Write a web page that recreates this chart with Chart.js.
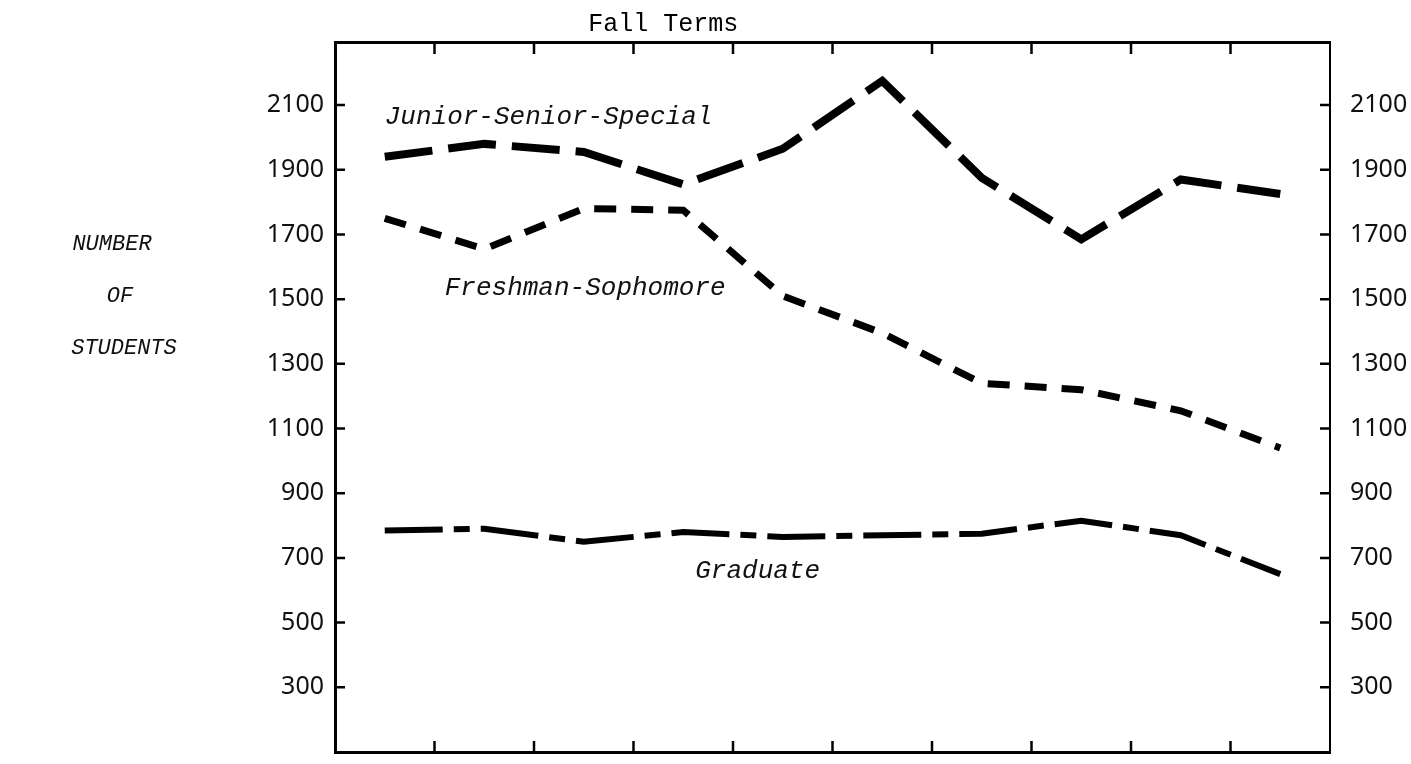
<!DOCTYPE html>
<html>
<head>
<meta charset="utf-8">
<script src="https://cdn.jsdelivr.net/npm/chart.js@4.4.1/dist/chart.umd.min.js"></script>
<style>
  html, body { margin: 0; padding: 0; background: #fff; }
</style>
</head>
<body>
<canvas id="chart" width="1411" height="764"></canvas>
<script>
// fall terms (unlabelled in the original)
const terms = ['Term 1', 'Term 2', 'Term 3', 'Term 4', 'Term 5', 'Term 6', 'Term 7', 'Term 8', 'Term 9', 'Term 10'];
const juniorSeniorSpecial = [1940, 1980, 1955, 1855, 1965, 2175, 1875, 1685, 1870, 1825];
const freshmanSophomore = [1750, 1655, 1780, 1775, 1510, 1395, 1240, 1220, 1155, 1040];
const graduate = [785, 790, 750, 780, 765, 770, 775, 815, 770, 650];
const yTicks = [300, 500, 700, 900, 1100, 1300, 1500, 1700, 1900, 2100];

const tickFont = { family: 'Noto Sans', size: 25 };
const typewriter = '"Liberation Mono", "DejaVu Sans Mono", monospace';

// ticks point inward on all four sides, plus the hand placed texts
const paperPlugin = {
  id: 'paper',
  afterDraw(chart) {
    const ctx = chart.ctx;
    const { left, right, top, bottom } = chart.chartArea;
    const x = chart.scales.x;
    const y = chart.scales.y;
    ctx.save();
    ctx.strokeStyle = '#000';
    ctx.lineWidth = 2.5;
    ctx.beginPath();
    for (let i = 0; i < terms.length - 1; i++) {
      const px = (x.getPixelForValue(i) + x.getPixelForValue(i + 1)) / 2;
      ctx.moveTo(px, top);
      ctx.lineTo(px, top + 12);
      ctx.moveTo(px, bottom);
      ctx.lineTo(px, bottom - 11);
    }
    yTicks.forEach(v => {
      const py = y.getPixelForValue(v);
      ctx.moveTo(left, py);
      ctx.lineTo(left + 10, py);
      ctx.moveTo(right, py);
      ctx.lineTo(right - 10, py);
    });
    ctx.stroke();

    ctx.fillStyle = '#000';
    ctx.textBaseline = 'middle';
    ctx.textAlign = 'center';
    ctx.font = '25px ' + typewriter;
    ctx.fillText('Fall Terms', left + (right - left) * 0.33, 24);

    ctx.fillStyle = '#111';
    ctx.textAlign = 'left';
    ctx.font = 'italic 26px ' + typewriter;
    ctx.fillText('Junior-Senior-Special', x.getPixelForValue(0), y.getPixelForValue(2062));
    ctx.fillText('Freshman-Sophomore', x.getPixelForValue(0) + 60, y.getPixelForValue(1535));
    ctx.fillText('Graduate', x.getPixelForValue(3) + 12, y.getPixelForValue(660));

    ctx.textAlign = 'center';
    ctx.font = 'italic 22px ' + typewriter;
    ctx.fillText('NUMBER', 112, 244);
    ctx.fillText('OF', 120, 296);
    ctx.fillText('STUDENTS', 124, 348);
    ctx.restore();
  }
};

const dashed = (label, data, width, dash) => ({
  label,
  data,
  borderColor: '#000',
  borderWidth: width,
  borderDash: dash,
  borderCapStyle: 'butt',
  pointRadius: 0,
  tension: 0,
  fill: false
});

const valueAxis = (position, padding, borderWidth, width) => ({
  position,
  min: 100,
  max: 2295,
  afterBuildTicks(s) { s.ticks = yTicks.map(v => ({ value: v })); },
  grid: { display: false },
  border: { display: true, color: '#000', width: borderWidth },
  ticks: { font: tickFont, color: '#111', padding, callback: v => String(v) },
  afterFit(s) {
    s.width = width;
    s.paddingTop = 0;
    s.paddingBottom = 0;
  }
});

new Chart(document.getElementById('chart').getContext('2d'), {
  type: 'line',
  data: {
    labels: terms,
    datasets: [
      dashed('Junior-Senior-Special', juniorSeniorSpecial, 8, [48, 16]),
      dashed('Freshman-Sophomore', freshmanSophomore, 7, [22, 15]),
      dashed('Graduate', graduate, 6, [58, 11, 16, 11])
    ]
  },
  options: {
    responsive: false,
    animation: false,
    layout: { padding: 0 },
    plugins: { legend: { display: false }, tooltip: { enabled: false } },
    scales: {
      x: {
        type: 'category',
        position: 'bottom',
        offset: true,
        grid: { display: false },
        border: { display: true, color: '#000', width: 3 },
        ticks: { display: false },
        afterFit(s) { s.height = 12; }
      },
      xTop: {
        type: 'category',
        position: 'top',
        offset: true,
        grid: { display: false },
        border: { display: true, color: '#000', width: 3 },
        ticks: { display: false },
        afterFit(s) { s.height = 42; }
      },
      y: valueAxis('left', 3, 3, 335),
      yRight: valueAxis('right', 12, 2, 81)
    }
  },
  plugins: [paperPlugin]
});
</script>
</body>
</html>
